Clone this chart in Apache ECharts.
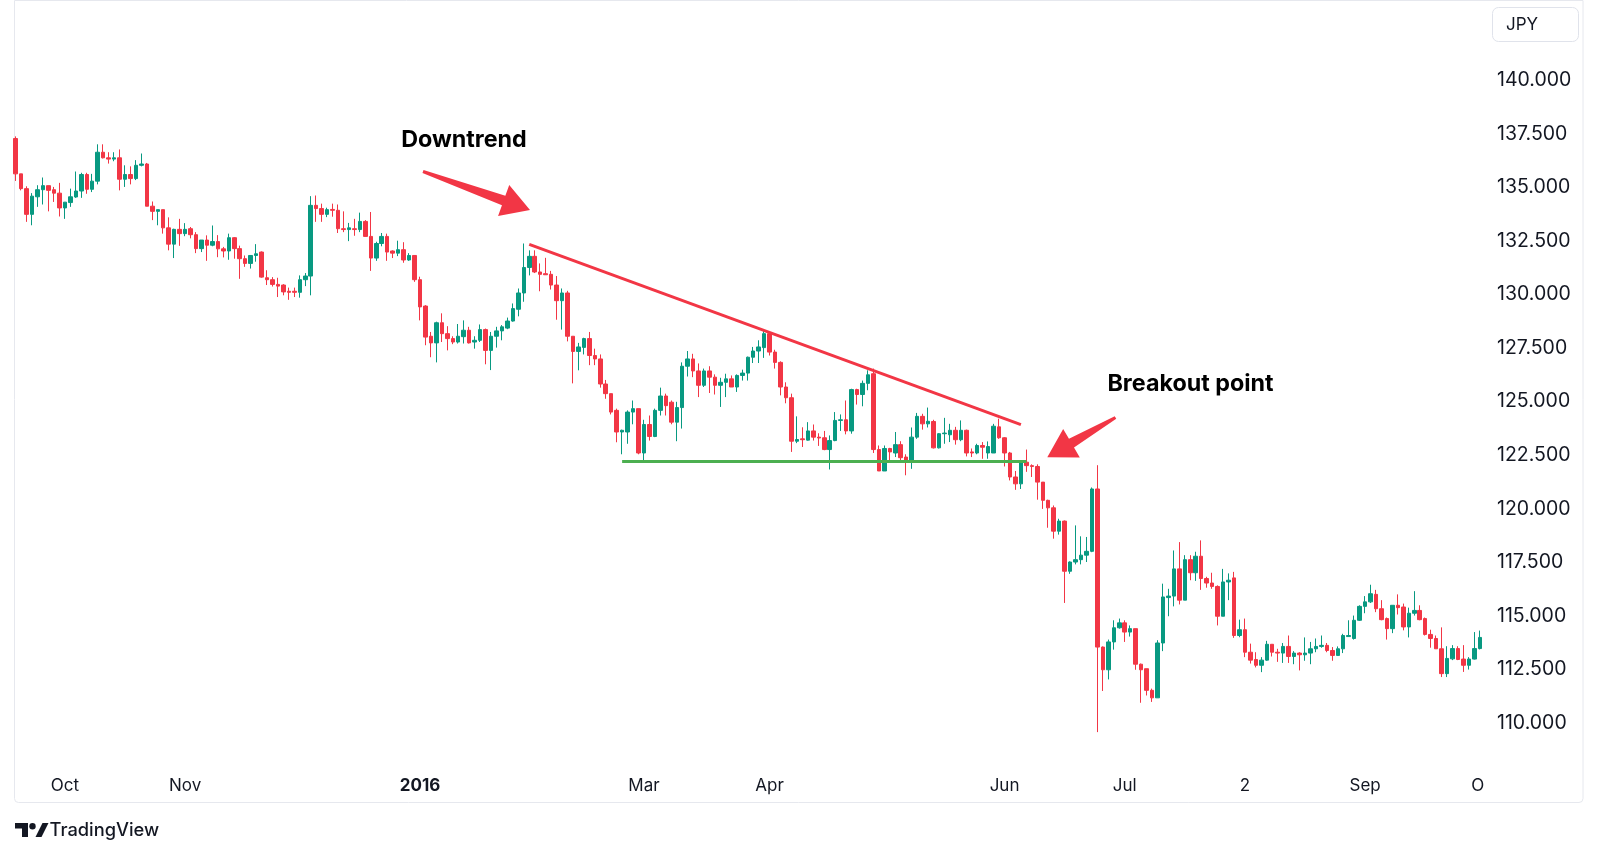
<!DOCTYPE html>
<html>
<head>
<meta charset="utf-8">
<title>JPY daily candles</title>
<script src="https://cdn.jsdelivr.net/npm/echarts@6/dist/echarts.min.js"></script>
<style>
  html, body { margin: 0; padding: 0; background: #fff; }
  #chart { width: 1600px; height: 855px; }
</style>
</head>
<body>
<div id="chart"></div>
<script>
// daily bars (one value per trading day from 2015-09-18)
const opens = [
  137.28, 135.63, 134.94, 133.74, 134.56, 134.89, 135.08, 134.89, 134.73, 134.04,
  134.29, 134.55, 134.83, 135.60, 134.91, 135.29, 136.64, 136.38, 136.32, 136.38,
  135.38, 135.60, 135.41, 136.03, 136.09, 134.12, 133.88, 133.96, 133.11, 132.35,
  133.04, 132.84, 133.07, 132.79, 132.14, 132.54, 132.30, 132.47, 132.13, 132.03,
  132.65, 132.14, 131.67, 131.45, 131.82, 131.98, 130.78, 130.69, 130.47, 130.44,
  130.15, 130.15, 130.10, 130.69, 130.86, 134.16, 134.01, 133.74, 133.97, 133.93,
  133.07, 133.03, 133.07, 133.03, 133.41, 132.71, 131.70, 132.38, 132.71, 132.03,
  131.93, 132.09, 131.61, 131.82, 130.69, 129.46, 128.05, 127.74, 128.68, 128.17,
  127.94, 127.78, 128.03, 128.33, 127.78, 127.86, 128.36, 127.39, 128.05, 128.30,
  128.43, 128.76, 129.31, 130.07, 131.26, 131.78, 131.05, 130.97, 130.94, 130.44,
  129.71, 130.07, 128.05, 127.34, 127.53, 127.94, 127.15, 126.99, 125.82, 125.37,
  124.59, 123.58, 123.58, 124.51, 124.67, 122.60, 123.93, 123.37, 124.59, 125.26,
  124.97, 124.04, 124.72, 126.65, 126.99, 126.43, 125.76, 126.43, 126.14, 125.76,
  125.90, 126.06, 125.68, 126.22, 126.33, 127.07, 127.36, 127.52, 128.17, 127.31,
  126.83, 125.68, 125.18, 123.15, 123.26, 123.20, 123.63, 123.34, 123.31, 122.76,
  123.18, 124.12, 124.15, 123.63, 125.56, 125.33, 125.85, 126.30, 122.76, 121.76,
  122.81, 122.60, 122.99, 122.41, 122.17, 123.34, 124.31, 123.96, 124.07, 122.84,
  123.50, 123.45, 123.66, 123.22, 123.66, 122.65, 122.60, 122.95, 122.60, 122.60,
  123.82, 123.31, 122.60, 121.48, 121.16, 122.17, 122.01, 121.97, 121.24, 120.39,
  120.04, 118.95, 119.42, 117.08, 117.51, 117.62, 117.83, 118.01, 120.92, 113.54,
  112.48, 113.78, 114.44, 114.67, 114.24, 114.40, 112.74, 112.53, 111.52, 111.17,
  113.73, 115.85, 115.92, 117.19, 115.73, 117.62, 117.01, 117.78, 116.74, 116.53,
  116.37, 114.98, 116.58, 116.77, 114.08, 114.35, 113.30, 112.96, 112.69, 112.93,
  113.67, 113.30, 113.26, 113.57, 113.10, 113.26, 113.18, 113.26, 113.46, 113.57,
  113.62, 113.38, 113.15, 113.46, 114.03, 113.94, 114.79, 115.44, 115.65, 116.00,
  115.33, 114.87, 114.40, 115.49, 115.41, 114.48, 115.12, 115.25, 114.87, 114.13,
  113.94, 113.46, 112.30, 112.99, 113.47, 112.98, 112.69, 112.98, 113.47
];
const closes = [
  135.63, 134.94, 133.74, 134.59, 134.89, 135.08, 134.86, 134.73, 134.04, 134.31,
  134.56, 134.83, 135.60, 134.91, 135.29, 136.64, 136.38, 136.32, 136.38, 135.38,
  135.60, 135.41, 136.03, 136.09, 134.12, 133.88, 133.96, 133.11, 132.35, 133.04,
  132.84, 133.04, 132.79, 132.14, 132.54, 132.30, 132.47, 132.13, 132.03, 132.65,
  132.14, 131.67, 131.45, 131.82, 131.90, 130.81, 130.69, 130.47, 130.39, 130.12,
  130.10, 130.10, 130.69, 130.86, 134.16, 134.01, 133.74, 133.96, 133.93, 133.07,
  133.03, 133.11, 133.03, 133.41, 132.71, 131.70, 132.38, 132.71, 131.98, 131.93,
  132.09, 131.61, 131.82, 130.69, 129.42, 128.01, 127.74, 128.68, 128.17, 127.94,
  127.78, 128.05, 128.33, 127.74, 127.86, 128.36, 127.39, 128.05, 128.30, 128.49,
  128.76, 129.34, 130.07, 131.26, 131.78, 131.05, 130.94, 130.92, 130.44, 129.71,
  130.07, 128.05, 127.34, 127.55, 127.94, 127.15, 126.99, 125.82, 125.37, 124.51,
  123.58, 123.66, 124.51, 124.67, 122.60, 123.93, 123.37, 124.59, 125.26, 124.81,
  124.04, 124.72, 126.65, 126.99, 126.43, 125.76, 126.43, 126.14, 125.76, 125.90,
  126.06, 125.68, 126.22, 126.33, 127.07, 127.36, 127.55, 128.17, 127.31, 126.83,
  125.68, 125.18, 123.15, 123.23, 123.22, 123.63, 123.34, 123.30, 122.76, 123.18,
  124.12, 124.15, 123.63, 125.56, 125.33, 125.85, 126.25, 122.76, 121.76, 122.81,
  122.65, 122.99, 122.38, 122.17, 123.34, 124.31, 123.96, 124.08, 122.84, 123.50,
  123.53, 123.66, 123.22, 123.66, 122.60, 122.60, 122.95, 122.87, 122.90, 123.85,
  123.31, 122.60, 121.48, 121.16, 122.17, 122.01, 121.97, 121.24, 120.39, 120.04,
  118.95, 119.42, 117.08, 117.51, 117.62, 117.83, 118.01, 120.92, 113.54, 112.48,
  113.78, 114.44, 114.67, 114.24, 114.40, 112.74, 112.48, 111.52, 111.17, 113.73,
  115.88, 115.92, 117.19, 115.73, 117.62, 117.01, 117.78, 116.74, 116.53, 116.37,
  114.98, 116.58, 116.66, 114.08, 114.35, 113.30, 112.93, 112.69, 112.93, 113.67,
  113.30, 113.26, 113.57, 113.10, 113.26, 113.18, 113.26, 113.46, 113.57, 113.62,
  113.38, 113.15, 113.46, 114.08, 114.08, 114.79, 115.44, 115.65, 116.03, 115.33,
  114.82, 114.40, 115.49, 115.38, 114.48, 115.12, 115.25, 114.82, 114.13, 113.94,
  113.46, 112.30, 113.01, 113.47, 112.96, 112.69, 112.98, 113.47, 113.99
];
const lows = [
  135.30, 134.86, 133.39, 133.23, 134.09, 134.20, 133.88, 134.32, 133.64, 133.53,
  134.09, 134.51, 134.51, 134.70, 134.78, 135.14, 136.35, 136.11, 136.22, 134.86,
  135.02, 135.14, 135.34, 135.98, 134.12, 133.47, 133.23, 132.84, 132.06, 131.70,
  132.27, 132.72, 132.62, 131.93, 131.98, 131.57, 132.25, 131.74, 131.73, 131.62,
  131.67, 130.73, 131.29, 131.21, 131.53, 130.78, 130.44, 130.37, 129.88, 129.96,
  129.75, 129.88, 129.85, 130.39, 129.96, 133.39, 133.39, 133.61, 133.63, 132.87,
  132.91, 132.49, 132.74, 132.91, 132.71, 131.10, 131.57, 132.25, 131.57, 131.70,
  131.79, 131.48, 131.57, 130.59, 128.79, 127.63, 127.07, 126.83, 127.78, 127.39,
  127.68, 127.71, 127.71, 127.71, 127.47, 127.78, 126.74, 126.47, 127.52, 127.86,
  128.38, 128.73, 128.98, 129.66, 130.89, 131.00, 130.15, 130.92, 130.23, 128.82,
  128.36, 127.81, 125.85, 126.46, 127.20, 126.70, 126.70, 125.65, 125.13, 124.40,
  123.10, 122.54, 123.03, 123.94, 122.54, 122.25, 123.18, 123.34, 124.35, 124.35,
  123.94, 123.15, 123.74, 126.17, 126.14, 125.21, 125.68, 125.40, 125.33, 124.75,
  125.21, 125.68, 125.45, 125.98, 125.98, 126.80, 126.80, 127.04, 127.15, 126.54,
  125.29, 124.92, 122.65, 123.06, 122.88, 123.18, 123.18, 122.93, 122.73, 121.83,
  123.15, 123.63, 123.47, 123.50, 124.86, 124.78, 125.53, 122.60, 121.76, 121.76,
  122.17, 122.41, 122.17, 121.56, 121.86, 123.26, 123.69, 123.79, 122.81, 122.81,
  123.03, 123.11, 122.99, 123.15, 122.44, 122.41, 122.54, 122.33, 122.33, 122.60,
  123.26, 121.97, 121.32, 120.88, 120.92, 121.72, 121.48, 120.42, 119.99, 119.11,
  118.60, 118.79, 115.60, 116.96, 117.40, 117.40, 117.51, 117.97, 109.57, 111.49,
  112.03, 113.42, 114.40, 113.78, 114.03, 112.48, 110.94, 111.28, 110.98, 111.17,
  113.35, 114.98, 115.44, 115.53, 115.73, 116.66, 116.63, 116.21, 116.31, 116.26,
  114.55, 114.98, 115.73, 113.97, 114.00, 113.07, 112.77, 112.59, 112.37, 112.90,
  113.10, 112.85, 112.80, 112.80, 112.74, 112.45, 112.90, 112.74, 113.30, 113.51,
  113.30, 112.90, 113.15, 113.26, 114.03, 113.89, 114.76, 115.12, 115.60, 115.17,
  114.79, 113.89, 114.19, 115.06, 114.32, 113.99, 115.01, 114.79, 114.08, 113.51,
  113.46, 112.14, 112.14, 112.93, 112.93, 112.38, 112.49, 112.96, 113.43
];
const highs = [
  137.38, 135.63, 135.05, 134.73, 135.10, 135.46, 135.08, 135.02, 135.21, 134.31,
  134.94, 135.74, 135.68, 135.68, 135.63, 137.01, 137.01, 136.64, 136.64, 136.77,
  136.03, 135.98, 136.27, 136.58, 136.14, 134.34, 133.96, 133.96, 133.60, 133.07,
  133.53, 133.33, 133.15, 132.91, 132.54, 132.76, 133.22, 132.77, 132.22, 132.84,
  132.68, 132.28, 131.82, 131.82, 132.35, 132.01, 131.13, 130.81, 130.78, 130.48,
  130.32, 130.32, 130.89, 131.00, 134.59, 134.62, 134.24, 134.05, 134.24, 134.20,
  133.88, 133.34, 133.53, 133.82, 133.47, 133.85, 132.46, 132.87, 132.84, 132.06,
  132.51, 132.44, 131.93, 131.82, 130.83, 129.50, 128.25, 128.73, 129.12, 128.52,
  128.05, 128.62, 128.79, 128.49, 128.05, 128.60, 128.41, 128.25, 128.49, 128.57,
  128.92, 129.58, 130.28, 132.38, 132.06, 132.06, 131.45, 131.71, 131.10, 130.86,
  130.28, 130.17, 128.05, 127.74, 127.98, 128.25, 127.47, 127.20, 126.01, 125.37,
  124.67, 123.69, 124.59, 125.05, 124.67, 124.15, 124.35, 124.67, 125.65, 125.37,
  125.05, 124.99, 126.83, 127.36, 127.23, 126.78, 126.54, 126.65, 126.27, 126.11,
  126.30, 126.22, 126.27, 126.49, 127.10, 127.55, 127.86, 128.30, 128.25, 127.42,
  126.88, 125.90, 125.37, 124.31, 123.80, 124.04, 123.93, 123.52, 123.63, 123.42,
  124.51, 124.40, 125.05, 125.60, 125.60, 125.98, 126.46, 126.54, 122.95, 122.95,
  122.84, 123.58, 123.15, 122.54, 123.79, 124.47, 124.43, 124.72, 124.15, 123.53,
  124.24, 123.96, 123.82, 124.12, 123.69, 122.81, 123.03, 123.11, 123.14, 123.96,
  124.20, 123.34, 122.65, 121.76, 122.20, 122.76, 122.07, 122.07, 121.24, 120.42,
  120.15, 119.53, 119.45, 117.54, 119.22, 118.71, 118.68, 120.99, 122.03, 113.57,
  113.89, 114.79, 114.87, 114.79, 114.55, 114.40, 112.77, 112.53, 111.60, 113.86,
  116.50, 116.26, 118.05, 118.44, 117.83, 117.83, 117.99, 118.52, 116.82, 117.01,
  116.42, 117.19, 116.98, 117.05, 114.82, 114.87, 113.70, 113.30, 113.07, 113.83,
  113.67, 113.46, 113.73, 114.08, 113.35, 113.30, 113.99, 113.78, 113.94, 114.08,
  113.73, 113.54, 113.57, 114.16, 114.79, 115.01, 115.49, 115.92, 116.45, 116.21,
  115.73, 114.92, 115.49, 116.00, 115.57, 115.38, 116.15, 115.49, 114.92, 114.35,
  114.08, 114.46, 113.58, 113.63, 113.58, 113.63, 113.07, 114.24, 114.31
];

// time axis: trading days, first and last day, days the feed skips
const firstDay = '2015-09-18';
const lastDay = '2016-10-03';
const skippedDays = ['2015-12-25', '2016-01-01'];

// bottom tick labels as the picture shows them
const tickDates = ['2015-10-01', '2015-11-02', '2016-01-04', '2016-03-01', '2016-04-01',
                   '2016-06-01', '2016-07-01', '2016-08-02', '2016-09-01', '2016-10-03'];
const tickTexts = ['Oct', 'Nov', '2016', 'Mar', 'Apr', 'Jun', 'Jul', '2', 'Sep', 'O'];

// drawn lines: falling top line and flat support
const resistDates = ['2016-02-01', '2016-06-06'];
const resistValues = [132.34, 123.92];
const supportDates = ['2016-02-24', '2016-06-07'];
const supportValue = 122.23;

const UP = '#089981';
const DOWN = '#f23645';
const TEXT = '#131722';
const FONT = 'Inter, "Noto Sans", sans-serif';

const days = [];
for (let d = new Date(firstDay + 'T00:00:00Z'); d <= new Date(lastDay + 'T00:00:00Z'); d.setUTCDate(d.getUTCDate() + 1)) {
  const wd = d.getUTCDay();
  const s = d.toISOString().slice(0, 10);
  if (wd === 0 || wd === 6 || skippedDays.indexOf(s) >= 0) continue;
  days.push(s);
}

const bars = opens.map((o, i) => [o, closes[i], lows[i], highs[i]]);

const tickMap = {};
tickDates.forEach((d, i) => { tickMap[d] = tickTexts[i]; });

// arrow polygon from tail to tip
function arrow(tail, tip, headLen, headHalf, shaftHalf, tailHalf) {
  const dx = tip[0] - tail[0], dy = tip[1] - tail[1];
  const len = Math.sqrt(dx * dx + dy * dy);
  const ux = dx / len, uy = dy / len;
  const nx = -uy, ny = ux;
  const bx = tip[0] - ux * headLen, by = tip[1] - uy * headLen;
  return [
    [tail[0] + nx * tailHalf, tail[1] + ny * tailHalf],
    [bx + nx * shaftHalf, by + ny * shaftHalf],
    [bx + nx * headHalf, by + ny * headHalf],
    tip,
    [bx - nx * headHalf, by - ny * headHalf],
    [bx - nx * shaftHalf, by - ny * shaftHalf],
    [tail[0] - nx * tailHalf, tail[1] - ny * tailHalf]
  ];
}

const chart = echarts.init(document.getElementById('chart'));

chart.setOption({
  animation: false,
  backgroundColor: '#fff',
  grid: {
    left: 13,
    width: 1475,
    top: 26.7,
    height: 696.2,
    containLabel: false,
    outerBoundsMode: 'none'
  },
  xAxis: {
    type: 'category',
    data: days,
    boundaryGap: true,
    axisLine: { show: false },
    axisTick: { show: false },
    splitLine: { show: false },
    axisLabel: {
      interval: (idx, val) => tickMap[val] !== undefined,
      margin: 54,
      fontSize: 17,
      fontFamily: FONT,
      color: TEXT,
      formatter: (val) => {
        const t = tickMap[val];
        if (t === undefined) return '';
        if (/^\d{4}$/.test(t)) return '{b|' + t + '}';
        if (t === 'O') return '{c|' + t + '}';
        return t;
      },
      rich: {
        b: { fontSize: 17, fontWeight: 'bold', fontFamily: FONT, color: TEXT },
        c: { fontSize: 17, fontFamily: FONT, color: TEXT, padding: [0, 15, 0, 0] }
      }
    }
  },
  yAxis: {
    type: 'value',
    position: 'right',
    min: 110,
    max: 142.5,
    interval: 2.5,
    axisLine: { show: false },
    axisTick: { show: false },
    splitLine: { show: false },
    axisLabel: {
      margin: 9,
      fontSize: 19.5,
      fontFamily: FONT,
      color: TEXT,
      formatter: (v) => (v > 140) ? '' : v.toFixed(3)
    }
  },
  series: [{
    type: 'candlestick',
    data: bars,
    barWidth: 4,
    clip: false,
    itemStyle: {
      color: UP,
      color0: DOWN,
      borderColor: UP,
      borderColor0: DOWN,
      borderWidth: 1
    },
    emphasis: { disabled: true },
    markLine: {
      silent: true,
      symbol: ['none', 'none'],
      label: { show: false },
      emphasis: { disabled: true },
      data: [
        [
          { coord: [resistDates[0], resistValues[0]], lineStyle: { color: DOWN, width: 3, type: 'solid' } },
          { coord: [resistDates[1], resistValues[1]] }
        ],
        [
          { coord: [supportDates[0], supportValue], lineStyle: { color: '#4caf50', width: 3, type: 'solid' } },
          { coord: [supportDates[1], supportValue] }
        ]
      ]
    }
  }],
  graphic: [
    {
      type: 'rect',
      silent: true,
      z: -1,
      shape: { x: 14.5, y: 0.5, width: 1568.5, height: 802, r: [0, 0, 4, 4] },
      style: { fill: null, stroke: '#e6e8ee', lineWidth: 1 }
    },
    {
      type: 'rect',
      silent: true,
      shape: { x: 1492.5, y: 7.5, width: 86, height: 34, r: 6 },
      style: { fill: '#fff', stroke: '#e0e3eb', lineWidth: 1 }
    },
    {
      type: 'text',
      silent: true,
      x: 1506, y: 24.5,
      style: { text: 'JPY', fill: TEXT, font: '17px ' + FONT, verticalAlign: 'middle' }
    },
    {
      type: 'text',
      silent: true,
      x: 464, y: 140,
      style: { text: 'Downtrend', fill: '#000', font: 'bold 23.3px ' + FONT, align: 'center', verticalAlign: 'middle' }
    },
    {
      type: 'text',
      silent: true,
      x: 1190.5, y: 384,
      style: { text: 'Breakout point', fill: '#000', font: 'bold 23.3px ' + FONT, align: 'center', verticalAlign: 'middle' }
    },
    {
      type: 'polygon',
      silent: true,
      shape: { points: arrow([423, 171.5], [530, 210], 28, 16.5, 5, 1.5) },
      style: { fill: DOWN }
    },
    {
      type: 'polygon',
      silent: true,
      shape: { points: arrow([1115.5, 417.5], [1047.3, 457.3], 28, 16.5, 5, 1.5) },
      style: { fill: DOWN }
    },
    // TradingView mark
    {
      type: 'group',
      silent: true,
      children: [
        { type: 'polygon', shape: { points: [[15, 823], [28, 823], [28, 837], [22, 837], [22, 828.5], [15, 828.5]] }, style: { fill: TEXT } },
        { type: 'circle', shape: { cx: 32.5, cy: 826.3, r: 3.2 }, style: { fill: TEXT } },
        { type: 'polygon', shape: { points: [[35.5, 837], [42.5, 823], [48.5, 823], [41.5, 837]] }, style: { fill: TEXT } },
        { type: 'text', x: 49.5, y: 831, style: { text: 'TradingView', fill: TEXT, font: '500 18.3px ' + FONT, verticalAlign: 'middle' } }
      ]
    }
  ]
});
</script>
</body>
</html>
